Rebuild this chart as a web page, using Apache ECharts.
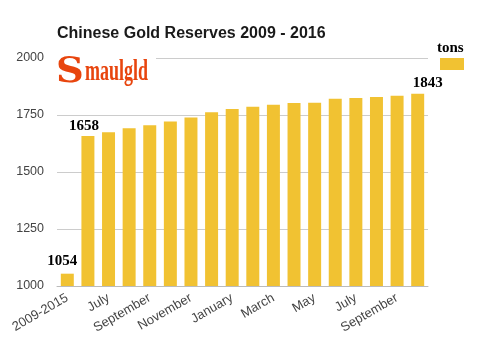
<!DOCTYPE html>
<html>
<head>
<meta charset="utf-8">
<script src="https://cdn.jsdelivr.net/npm/echarts@6/dist/echarts.min.js"></script>
<style>
html,body{margin:0;padding:0;background:#fff;}
#chart{width:478px;height:343px;}
</style>
</head>
<body>
<div id="chart"></div>
<script>
const categories = ['2009-2015','June','July','August','September','October','November','December','January','February','March','April','May','June','July','August','September','October'];
const tons = [1054, 1658, 1674, 1692, 1705, 1722, 1739, 1762, 1776, 1786, 1795, 1803, 1804, 1821, 1825, 1829, 1834, 1843];
const yTicks = [1000, 1250, 1500, 1750, 2000];
const seriesName = 'tons';
const titleText = 'Chinese Gold Reserves 2009 - 2016';
const labelledIdx = [0, 1, 17];

const labelOffsets = {0: [-5, 0], 1: [-4, 3], 17: [10, 2]};
const barData = tons.map((v, i) => {
  if (labelledIdx.indexOf(i) >= 0) {
    return {
      value: v,
      label: {
        show: true, position: 'top', offset: labelOffsets[i],
        fontFamily: 'Liberation Serif', fontWeight: 'bold', fontSize: 15, color: '#000'
      }
    };
  }
  return v;
});

const chart = echarts.init(document.getElementById('chart'), null, {renderer: 'canvas'});
chart.setOption({
  animation: false,
  backgroundColor: '#fff',
  title: {
    text: titleText, left: 52, top: 21,
    textStyle: {fontFamily: 'Liberation Sans', fontWeight: 'bold', fontSize: 16, color: '#1a1a1a'}
  },
  legend: {
    data: [seriesName], left: 440, top: 58,
    itemWidth: 24, itemHeight: 12, icon: 'rect', formatter: () => '',
    itemGap: 0, padding: 0
  },
  grid: {left: 57, right: 50, top: 58, bottom: 57, containLabel: false},
  xAxis: {
    type: 'category', data: categories,
    axisLine: {lineStyle: {color: '#bbb'}},
    axisTick: {show: false},
    axisLabel: {interval: 1, rotate: 30, fontFamily: 'Liberation Sans', fontSize: 13, color: '#444', margin: 11}
  },
  yAxis: {
    type: 'value', min: yTicks[0], max: yTicks[yTicks.length - 1], interval: 250,
    axisLine: {show: false}, axisTick: {show: false},
    splitLine: {lineStyle: {color: '#ccc'}},
    axisLabel: {fontFamily: 'Liberation Sans', fontSize: 12.5, color: '#444', margin: 13,
      formatter: v => String(v)}
  },
  series: [{
    name: seriesName, type: 'bar', data: barData,
    barCategoryGap: '37%',
    itemStyle: {color: '#f1c232'}
  }],
  graphic: [
    {type: 'rect', left: 55, top: 50, shape: {width: 101, height: 55}, style: {fill: '#fff'}, z: 10},
    {type: 'text', x: 56, y: 55, scaleX: 1.1, z: 11,
     style: {text: 'S', fontFamily: 'DejaVu Serif', fontWeight: 'bold', fontSize: 35, fill: '#e8450e'}},
    {type: 'text', x: 85, y: 58, scaleX: 0.62, z: 11,
     style: {text: 'maulgld', fontFamily: 'Liberation Serif', fontWeight: 'bold', fontSize: 29, fill: '#e8450e'}},
    {type: 'text', left: 437, top: 41, z: 11,
     style: {text: 'tons', fontFamily: 'Liberation Serif', fontWeight: 'bold', fontSize: 15, fill: '#000'}}
  ]
});
</script>
</body>
</html>
